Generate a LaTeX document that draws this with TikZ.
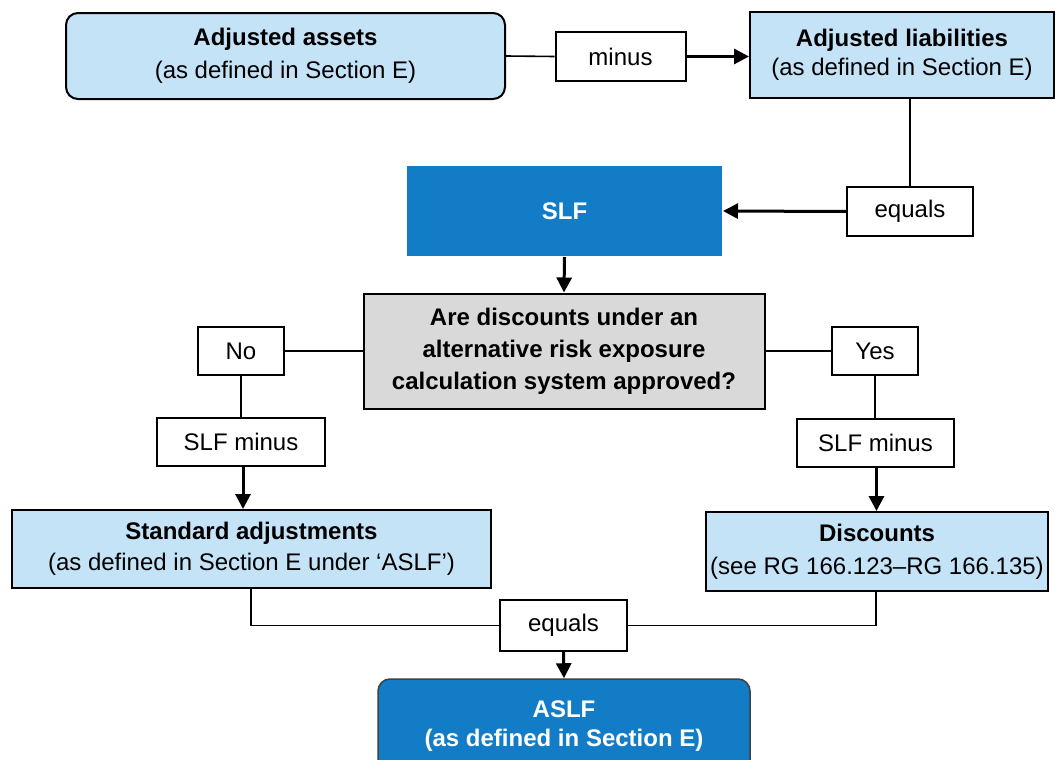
\documentclass[tikz,border=0pt]{standalone}
\usepackage{fontspec}
\setmainfont{Liberation Sans}
\usetikzlibrary{arrows.meta}
\definecolor{lblue}{HTML}{C5E3F7}
\definecolor{dblue}{HTML}{127DC6}
\definecolor{qgray}{HTML}{D9D9D9}
\tikzset{
  base/.style={draw=black, line width=1pt, inner sep=0pt, align=center,
    font=\fontsize{12}{15.5}\selectfont},
  lbox/.style={base, fill=lblue},
  wbox/.style={base, fill=white},
  dbox/.style={base, fill=dblue, text=white, font=\fontsize{12}{14.5}\selectfont\bfseries},
  thin line/.style={line width=0.8pt},
  thick arrow/.style={line width=1.5pt, -{Triangle[length=7.5pt,width=7.5pt]}},
}
\begin{document}
\begin{tikzpicture}[x=0.5pt, y=-0.5pt]
\useasboundingbox (0,0) rectangle (1055,760);
\fill[white] (0,0) rectangle (1055,760);

\node[lbox, rounded corners=6pt, minimum width=219.5pt, minimum height=43pt,
  font=\fontsize{12}{16.5}\selectfont] (assets) at (285.5,56)
  {\textbf{Adjusted assets}\\(as defined in Section E)};
\node[wbox, minimum width=65pt, minimum height=24.5pt] (minus) at (620.5,56.5) {minus};
\node[lbox, minimum width=152pt, minimum height=43pt,
  font=\fontsize{12}{14.5}\selectfont] (liab) at (902,55)
  {\textbf{Adjusted liabilities}\\(as defined in Section E)};
\node[wbox, minimum width=63pt, minimum height=24.5pt] (eq1) at (910,211.5) {equals};
\node[dbox, draw=none, minimum width=157.5pt, minimum height=45pt] (slf) at (564.5,211) {SLF};
\node[base, fill=qgray, minimum width=200.5pt, minimum height=57.5pt,
  font=\fontsize{12}{16}\selectfont\bfseries] (q) at (564,351)
  {Are discounts under an\\alternative risk exposure\\calculation system approved?};
\node[wbox, minimum width=43pt, minimum height=24pt] (no) at (241,351) {No};
\node[wbox, minimum width=84pt, minimum height=24pt] (slfm1) at (241,442) {SLF minus};
\node[lbox, minimum width=239.5pt, minimum height=39pt] (std) at (251.5,549)
  {\textbf{Standard adjustments}\\(as defined in Section E under `ASLF')};
\node[wbox, minimum width=43pt, minimum height=24pt] (yes) at (875,351) {Yes};
\node[wbox, minimum width=78.5pt, minimum height=24pt] (slfm2) at (875.5,443) {SLF minus};
\node[lbox, minimum width=171pt, minimum height=39.5pt, font=\fontsize{12}{16.5}\selectfont] (disc) at (877,551.5)
  {\textbf{Discounts}\\(see RG 166.123--RG 166.135)};
\node[wbox, minimum width=63.5pt, minimum height=25.5pt] (eq2) at (563.5,625.5) {equals};
\node[dbox, draw=black!75, line width=0.75pt, rounded corners=6pt, minimum width=186pt, minimum height=47pt] (aslf) at (564,726)
  {ASLF\\(as defined in Section E)};

\draw[thin line] (assets.east) -- (minus.west);
\draw[thick arrow] (minus.east) -- (liab.west |- minus.east);
\draw[thin line] (eq1.north) -- (eq1.north |- liab.south);
\draw[thick arrow] (eq1.west) -- (slf.east);
\draw[thick arrow] (slf.south) -- (q.north);
\draw[thin line] (q.west) -- (no.east);
\draw[thin line] (no.south) -- (slfm1.north);
\draw[thick arrow] ([xshift=1pt]slfm1.south) -- ([xshift=1pt]slfm1.south |- std.north);
\draw[thin line] (q.east) -- (yes.west);
\draw[thin line] (yes.south) -- (yes.south |- slfm2.north);
\draw[thick arrow] ([xshift=0.5pt]slfm2.south) -- ([xshift=0.5pt]slfm2.south |- disc.north);
\draw[thin line] ([xshift=-0.25pt]std.south) |- (eq2.west);
\draw[thin line] ([xshift=-0.5pt]disc.south) |- (eq2.east);
\draw[thick arrow] (eq2.south) -- (aslf.north);
\end{tikzpicture}
\end{document}
